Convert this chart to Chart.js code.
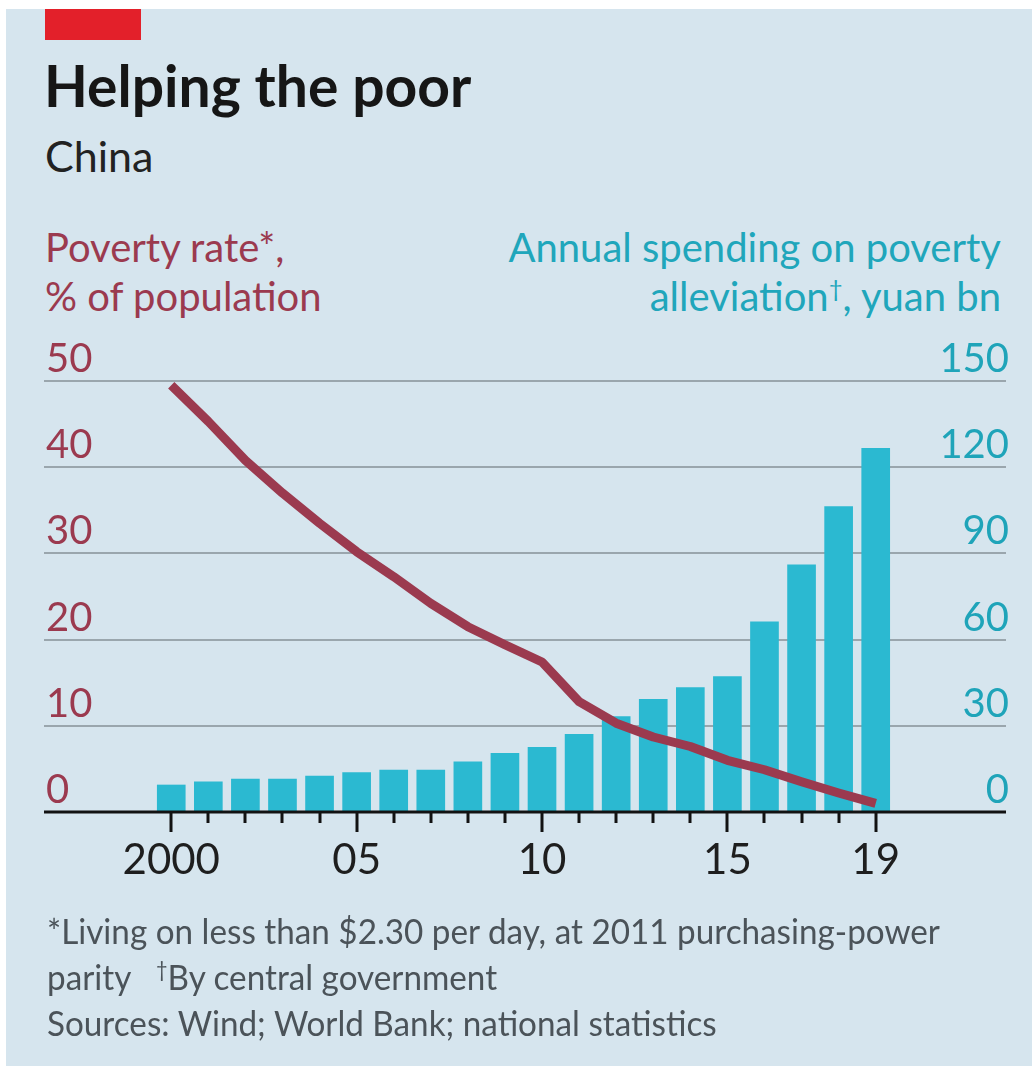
<!DOCTYPE html>
<html>
<head>
<meta charset="utf-8">
<script src="https://cdn.jsdelivr.net/npm/chart.js@4"></script>
<style>
  html, body { margin: 0; padding: 0; background: #ffffff; }
  body { width: 1032px; height: 1068px; position: relative; overflow: hidden; }
  #panel { position: absolute; left: 6px; top: 9px; width: 1026px; height: 1057px; background: #d6e5ee; }
  #redbar { position: absolute; left: 45px; top: 9px; width: 96px; height: 31px; background: #e3202a; }
  .t { position: absolute; white-space: nowrap; line-height: 1; }
  #title { left: 44px; top: 51px; font: 700 57px Lato, sans-serif; color: #161616; }
  #subtitle { left: 45px; top: 130px; font: 400 43px Lato, sans-serif; color: #222; }
  .lh { left: 45px; font: 400 40px Lato, sans-serif; color: #9b3a4f; }
  .rh { right: 31px; text-align: right; font: 400 40px Lato, sans-serif; color: #20a6bb; }
  .fn { left: 47px; font: 400 35px Lato, sans-serif; color: #4b5359; transform: scaleX(0.95); transform-origin: left center; }
  sup { font-size: 0.6em; vertical-align: 0.6em; line-height: 0; }
  canvas { position: absolute; left: 0; top: 0; }
</style>
</head>
<body>
<div id="panel"></div>
<div id="redbar"></div>
<div class="t" id="title">Helping the poor</div>
<div class="t" id="subtitle">China</div>
<div class="t lh" style="top:223px">Poverty rate*,</div>
<div class="t lh" style="top:272px">% of population</div>
<div class="t rh" style="top:223px">Annual spending on poverty</div>
<div class="t rh" style="top:272px">alleviation<sup>†</sup>, yuan bn</div>
<canvas id="c" width="1032" height="1068"></canvas>
<div class="t fn" style="top:909px">*Living on less than $2.30 per day, at 2011 purchasing-power</div>
<div class="t fn" style="top:955px">parity &nbsp;&nbsp;<sup>†</sup>By central government</div>
<div class="t fn" style="top:1001px">Sources: Wind; World Bank; national statistics</div>
<script>
const years = [2000, 2001, 2002, 2003, 2004, 2005, 2006, 2007, 2008, 2009,
               2010, 2011, 2012, 2013, 2014, 2015, 2016, 2017, 2018, 2019];
const povertyRate = [49.5, 45.3, 40.8, 37.0, 33.5, 30.2, 27.3, 24.2, 21.5, 19.4,
                     17.4, 12.8, 10.3, 8.7, 7.6, 6.0, 4.9, 3.5, 2.2, 1.0];
const spending = [9.4, 10.5, 11.5, 11.5, 12.5, 13.7, 14.6, 14.6, 17.5, 20.4,
                  22.5, 27.0, 33.2, 39.2, 43.3, 47.1, 66.2, 86.0, 106.3, 126.6];
const rateTicks = [0, 10, 20, 30, 40, 50];
const spendTicks = [0, 30, 60, 90, 120, 150];
const labelYears = [2000, 2005, 2010, 2015, 2019];
const labelTexts = ['2000', '05', '10', '15', '19'];

const MAROON = '#9b3a4f';
const CYAN = '#2bb9d1';
const TEAL = '#1fa4b9';
const FONT = 'Lato, sans-serif';

const axisPlugin = {
  id: 'baselineTicks',
  afterDatasetsDraw(chart) {
    const ctx = chart.ctx;
    const xs = chart.scales.x;
    const ys = chart.scales.y;
    const y0 = ys.getPixelForValue(0);
    ctx.save();
    ctx.strokeStyle = '#121212';
    ctx.lineWidth = 3;
    ctx.beginPath();
    ctx.moveTo(chart.chartArea.left, y0);
    ctx.lineTo(chart.chartArea.right, y0);
    ctx.stroke();
    years.forEach(yr => {
      const px = Math.round(xs.getPixelForValue(yr));
      const len = labelYears.includes(yr) ? 20 : 11;
      ctx.beginPath();
      ctx.moveTo(px, y0);
      ctx.lineTo(px, y0 + len);
      ctx.stroke();
    });
    ctx.restore();
  }
};

new Chart(document.getElementById('c'), {
  data: {
    datasets: [
      {
        type: 'line',
        label: 'Poverty rate',
        data: years.map((yr, i) => ({ x: yr, y: povertyRate[i] })),
        yAxisID: 'y',
        borderColor: MAROON,
        borderWidth: 9,
        pointRadius: 0,
        tension: 0,
        borderCapStyle: 'butt',
        borderJoinStyle: 'round',
        order: 0
      },
      {
        type: 'bar',
        label: 'Spending',
        data: years.map((yr, i) => ({ x: yr, y: spending[i] })),
        yAxisID: 'y1',
        backgroundColor: CYAN,
        borderWidth: 0,
        barThickness: 28,
        order: 1
      }
    ]
  },
  options: {
    responsive: false,
    animation: false,
    devicePixelRatio: 1,
    layout: { padding: { left: 40, right: 20, top: 381, bottom: 0 } },
    plugins: { legend: { display: false }, tooltip: { enabled: false } },
    scales: {
      x: {
        type: 'linear',
        position: 'bottom',
        offset: false,
        min: 1996.568,
        max: 2022.514,
        grid: { display: false, drawTicks: false, offset: false },
        border: { display: false },
        afterBuildTicks(scale) { scale.ticks = years.map(v => ({ value: v })); },
        afterFit(scale) { scale.height = 256; },
        ticks: {
          autoSkip: false,
          maxRotation: 0,
          padding: 23,
          color: '#1e1e1e',
          font: { family: FONT, size: 42 },
          callback(v) { const k = labelYears.indexOf(v); return k >= 0 ? labelTexts[k] : ''; }
        }
      },
      y: {
        position: 'left',
        min: 0,
        max: 50,
        afterBuildTicks(scale) { scale.ticks = rateTicks.map(v => ({ value: v })); },
        grid: { color: '#9aa6ad', lineWidth: 2, drawTicks: false },
        border: { display: false },
        ticks: {
          mirror: true,
          padding: 2,
          labelOffset: -22,
          color: MAROON,
          font: { family: FONT, size: 40 }
        }
      },
      y1: {
        position: 'right',
        min: 0,
        max: 150,
        afterBuildTicks(scale) { scale.ticks = spendTicks.map(v => ({ value: v })); },
        grid: { display: false, drawTicks: false },
        border: { display: false },
        ticks: {
          mirror: true,
          padding: 3,
          labelOffset: -22,
          color: TEAL,
          font: { family: FONT, size: 40 }
        }
      }
    }
  },
  plugins: [axisPlugin]
});
</script>
</body>
</html>
